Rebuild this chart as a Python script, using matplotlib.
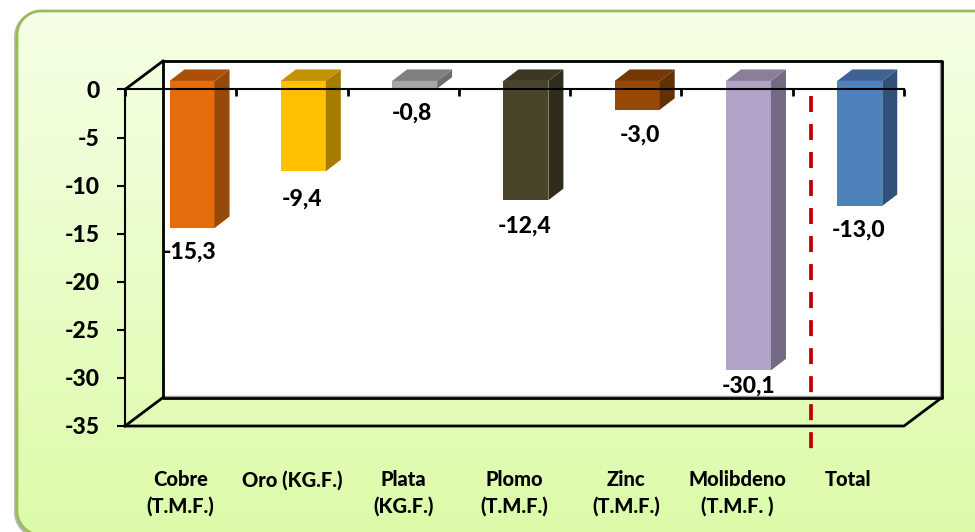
import numpy as np
import matplotlib
matplotlib.use('Agg')
import matplotlib.pyplot as plt
from matplotlib.patches import Polygon

plt.rcParams['font.family'] = ['Lato', 'DejaVu Sans']
plt.rcParams['font.weight'] = 'black'

categorias = ['Cobre\n(T.M.F.)', 'Oro (KG.F.)\n ', 'Plata\n(KG.F.)', 'Plomo\n(T.M.F.)',
              'Zinc\n(T.M.F.)', 'Molibdeno\n(T.M.F. )', 'Total\n ']
valores = [-15.3, -9.4, -0.8, -12.4, -3.0, -30.1, -13.0]
etiquetas = ['-15,3', '-9,4', '-0,8', '-12,4', '-3,0', '-30,1', '-13,0']
col_frente = ['#e46c0a', '#ffc000', '#a6a6a6', '#4a452a', '#984807', '#b2a2c7', '#4f81bd']
col_lado = ['#95490a', '#a67d00', '#6d6d6d', '#2f2c1b', '#632f04', '#756a83', '#315278']
col_tope = ['#ac5008', '#c29200', '#808080', '#3c3822', '#753704', '#8a7e9b', '#3c6394']
yticks = [0, -5, -10, -15, -20, -25, -30, -35]
# las etiquetas estan movidas a mano en el original (px respecto a la base de la barra)
ajuste_x = [-2.5, -1.7, -3, -1, 2.5, 0, -1]
ajuste_y = [24, 28, 24, 26, 25, 16, 24]

W, H = 975, 532
fig = plt.figure(figsize=(W / 100, H / 100), dpi=100, facecolor='white')

# fondo: panel redondeado con degradado, el contorno se sale por la derecha y por abajo
bg = fig.add_axes([0, 0, 1, 1], zorder=0)
bg.axis('off')
r = 24
t = np.linspace(0, np.pi / 2, 30)
borde_x = np.r_[1000, 17 + r - r * np.sin(t), 17 + r - r * np.cos(t), 1000]
borde_y = np.r_[11, 11 + r - r * np.cos(t), 535 - r + r * np.sin(t), 535]
sombra = Polygon(np.c_[borde_x - 1.5, borde_y + 1.5], closed=True, fc='none', ec='#b5b5b5', lw=2, zorder=0.5)
bg.add_patch(sombra)
panel = Polygon(np.c_[borde_x, borde_y], closed=True, fc='none', ec='#9bbb59', lw=2, zorder=3)
bg.add_patch(panel)
grad = np.linspace(0, 1, 256).reshape(-1, 1, 1)
c1 = np.array([0xf5, 0xff, 0xe6]) / 255
c2 = np.array([0xdc, 0xfb, 0xa9]) / 255
img = bg.imshow(c1 + (c2 - c1) * grad, extent=[0, W, 535, 11], aspect='auto', zorder=1)
img.set_clip_path(panel)
bg.set_xlim(0, W)
bg.set_ylim(H, 0)

# ejes: de 125 a 904 px en x, de 89.5 a 426 px en y
ax = fig.add_axes([125 / W, 1 - 426 / H, 779 / W, 336.5 / H], zorder=2)
ax.patch.set_alpha(0)
ax.set_xlim(0, 7)
ax.set_ylim(-35, 0)

px_x = 7 / 779
px_y = 35 / 336.5
dx, dy = 38 * px_x, 28.5 * px_y          # profundidad de la caja
x0, y0 = 0.3 * dx, 0.3 * dy              # plano frontal de las barras
bx, by = 15 * px_x, 11.5 * px_y          # profundidad de las barras
ancho = 45 * px_x
lado = dict(clip_on=False, lw=0)

# caja 3D
ax.add_patch(Polygon([(dx, dy), (7 + dx, dy), (7 + dx, -35 + dy), (dx, -35 + dy)], fc='white',
                     ec='none', clip_on=False, zorder=1))
ax.plot([dx, 7 + dx - 2 * px_x, 7 + dx - 2 * px_x], [-35 + dy + 2 * px_y, -35 + dy + 2 * px_y, dy],
        color='#999999', lw=1, clip_on=False, zorder=1.5)
caja = dict(color='black', lw=2, clip_on=False, zorder=2, solid_capstyle='projecting')
ax.plot([dx, 7 + dx, 7 + dx, dx, dx], [dy, dy, -35 + dy, -35 + dy, dy], **caja)
ax.plot([0, dx], [0, dy], **caja)
ax.plot([0, dx], [-35, -35 + dy], **caja)
ax.plot([0, 7, 7 + dx], [-35, -35, -35 + dy], **caja)

# barras
xc = np.arange(len(valores)) + 0.5 + x0
ax.bar(xc, valores, bottom=y0, width=ancho, color=col_frente, zorder=3, clip_on=False)
for i, v in enumerate(valores):
    l, d, t_, b = xc[i] - ancho / 2, xc[i] + ancho / 2, y0, y0 + v
    ax.add_patch(Polygon([(d, t_), (d + bx, t_ + by), (d + bx, b + by), (d, b)], fc=col_lado[i], zorder=3, **lado))
    ax.add_patch(Polygon([(l, t_), (l + bx, t_ + by), (d + bx, t_ + by), (d, t_)], fc=col_tope[i], zorder=3, **lado))
    ax.annotate(etiquetas[i], (xc[i], b), xytext=(ajuste_x[i] * 0.72, -ajuste_y[i] * 0.72),
                textcoords='offset points', ha='center', va='center', fontsize=16.5,
                color='black', annotation_clip=False, zorder=6)

# linea roja que separa el total
ax.plot([6.16, 6.16], [-0.7, -37.4], color='#c00000', lw=2.7, clip_on=False, zorder=5,
        dashes=(4.27, 3.2), dash_capstyle='butt')

# ejes y ticks
for s in ['right', 'top']:
    ax.spines[s].set_visible(False)
ax.spines['bottom'].set_position(('data', 0))
ax.spines['bottom'].set_zorder(4)
ax.spines['bottom'].set_linewidth(1.5)
ax.spines['left'].set_linewidth(1.5)
ax.spines['left'].set_zorder(4)
ax.set_yticks(yticks)
ax.set_yticklabels([str(t) for t in yticks], fontsize=16.5)
ax.tick_params(axis='y', length=6, width=1.5, pad=12.5)
ax.set_xticks(range(8))
ax.set_xticklabels([])
ax.tick_params(axis='x', which='major', length=5, width=2, direction='out')
ax.set_xticks(np.arange(7) + 0.5, minor=True)
ax.set_xticklabels(categorias, minor=True, fontsize=14.5, linespacing=1.42)
ax.tick_params(axis='x', which='minor', length=0, pad=274)

fig.savefig('out.png', dpi=100)
